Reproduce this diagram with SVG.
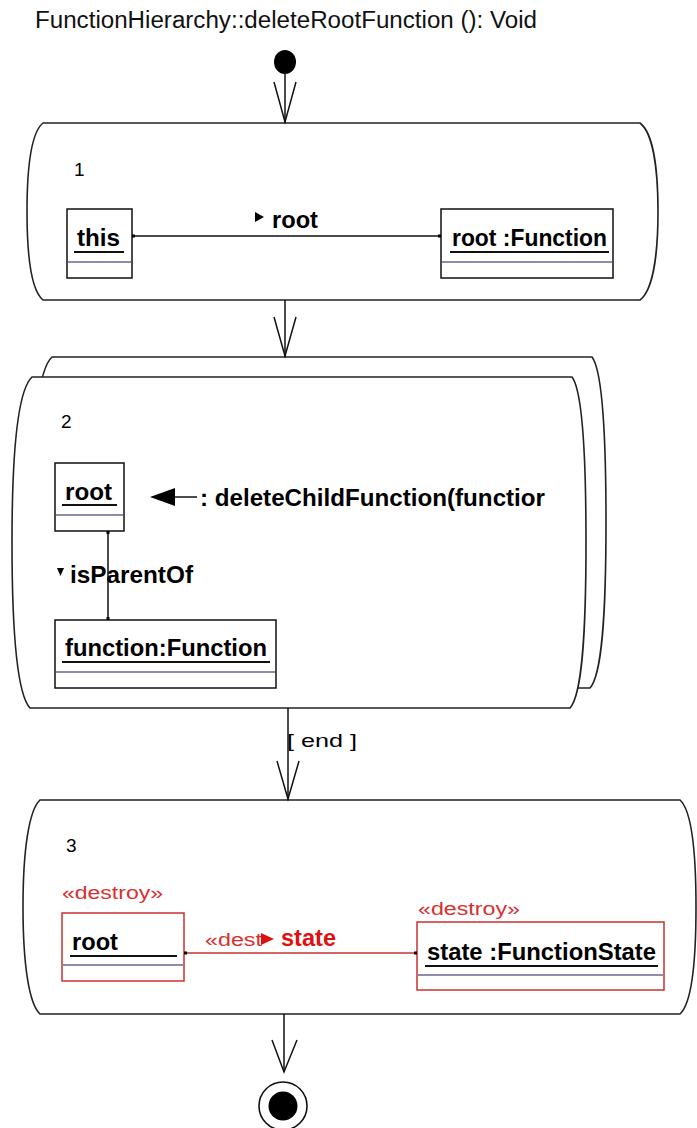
<svg xmlns="http://www.w3.org/2000/svg" width="697" height="1128" viewBox="0 0 697 1128">
<style>
text{font-family:"Liberation Sans",Arial,sans-serif;fill:#000}
.t{font-size:23px;fill:#111}
.b{font-size:23px;font-weight:bold}
.n{font-size:19px}
.act{fill:#fff;stroke:#222;stroke-width:1.6}
.obj{fill:#fff;stroke:#111;stroke-width:1.5}
.red{fill:#fff;stroke:#cc3030;stroke-width:1.5}
.ul{stroke:#111;stroke-width:2}
.sep{stroke:#8c8cae;stroke-width:2}
.tr{stroke:#111;stroke-width:1.5;fill:none}
.lnk{stroke:#111;stroke-width:1.5}
.st{font-size:18px;fill:#d83030}
</style>
<text class="t" x="35" y="28" textLength="502" lengthAdjust="spacingAndGlyphs">FunctionHierarchy::deleteRootFunction (): Void</text>

<g id="start"><ellipse cx="285" cy="62" rx="11" ry="12" fill="#000"/></g>

<g id="activity1">
<path class="act" d="M43,123 L640,123 C652,132 658,165 658,211.5 C658,258 652,291 640,300 L43,300 C32,291 27,258 27,211.5 C27,165 32,132 43,123 Z"/>
<text class="n" x="74" y="176">1</text>
</g>
<g id="obj-this">
<rect class="obj" x="67" y="209" width="65" height="69"/>
<text class="b" x="77" y="246" textLength="43" lengthAdjust="spacingAndGlyphs">this</text>
<line class="ul" x1="74" y1="252" x2="124" y2="252"/>
<line class="sep" x1="68" y1="262" x2="131" y2="262"/>
</g>
<g id="obj-root1">
<rect class="obj" x="441" y="209" width="172" height="69"/>
<text class="b" x="452" y="246" textLength="155" lengthAdjust="spacingAndGlyphs">root :Function</text>
<line class="ul" x1="450" y1="252" x2="609" y2="252"/>
<line class="sep" x1="442" y1="262" x2="612" y2="262"/>
</g>

<g id="activity2">
<path class="act" d="M52,357 L592,357 C602,370 606,430 606,522 C606,615 602,675 590,688 L50,688 C38,675 32,615 32,522 C32,430 38,370 52,357 Z"/>
<path class="act" d="M32,377 L572,377 C582,390 586,450 586,542 C586,635 582,695 570,708 L30,708 C18,695 12,635 12,542 C12,450 18,390 32,377 Z"/>
<text class="n" x="61" y="428">2</text>
</g>
<g id="obj-root2">
<rect class="obj" x="55" y="463" width="69" height="68"/>
<text class="b" x="65" y="500" textLength="47" lengthAdjust="spacingAndGlyphs">root</text>
<line class="ul" x1="62" y1="505" x2="117" y2="505"/>
<line class="sep" x1="56" y1="515" x2="123" y2="515"/>
</g>
<g id="obj-function">
<rect class="obj" x="55" y="620" width="221" height="68"/>
<text class="b" x="65" y="656" textLength="202" lengthAdjust="spacingAndGlyphs">function:Function</text>
<line class="ul" x1="62" y1="662" x2="270" y2="662"/>
<line class="sep" x1="56" y1="672" x2="275" y2="672"/>
</g>
<g id="msg">
<polygon points="150,497 175,488 175,506" fill="#000"/>
<line class="lnk" x1="174" y1="497" x2="197" y2="497"/>
<text class="b" x="200" y="506" textLength="345" lengthAdjust="spacingAndGlyphs">: deleteChildFunction(functior</text>
</g>

<g id="activity3">
<path class="act" d="M40,800 L680,800 C691,810 696,850 696,907 C696,964 691,1004 680,1014 L40,1014 C29,1004 23,964 23,907 C23,850 29,810 40,800 Z"/>
<text class="n" x="66" y="852">3</text>
</g>
<g id="obj-root3">
<text class="st" x="62" y="899" textLength="101" lengthAdjust="spacingAndGlyphs">«destroy»</text>
<rect class="red" x="62" y="913" width="122" height="68"/>
<text class="b" x="72" y="950" textLength="46" lengthAdjust="spacingAndGlyphs">root</text>
<line class="ul" x1="70" y1="956" x2="177" y2="956"/>
<line class="sep" x1="63" y1="965" x2="183" y2="965"/>
</g>
<g id="obj-state">
<text class="st" x="418" y="915" textLength="102" lengthAdjust="spacingAndGlyphs">«destroy»</text>
<rect class="red" x="417" y="922" width="247" height="68"/>
<text class="b" x="427" y="960" textLength="229" lengthAdjust="spacingAndGlyphs">state :FunctionState</text>
<line class="ul" x1="425" y1="966" x2="658" y2="966"/>
<line class="sep" x1="418" y1="975" x2="663" y2="975"/>
</g>

<g id="end"><circle cx="283" cy="1106" r="24" fill="#fff" stroke="#111" stroke-width="1.6"/><circle cx="283" cy="1106" r="14.5" fill="#000"/></g>

<g id="connectors">
<line class="tr" x1="285" y1="72" x2="285" y2="123"/>
<polyline class="tr" points="274,82 285,122 296,82"/>
<line class="tr" x1="285" y1="300" x2="285" y2="357"/>
<polyline class="tr" points="274,317 285,356 296,317"/>
<line class="tr" x1="288" y1="708" x2="288" y2="800"/>
<polyline class="tr" points="277,761 288,799 299,761"/>
<text class="n" x="287" y="747" textLength="70" lengthAdjust="spacingAndGlyphs">[ end ]</text>
<line class="tr" x1="284" y1="1014" x2="284" y2="1072"/>
<polyline class="tr" points="272,1040 284,1072 297,1040"/>

<line class="lnk" x1="132" y1="236" x2="441" y2="236"/>
<rect x="132" y="234.5" width="3" height="3" fill="#000"/>
<rect x="438" y="234.5" width="3" height="3" fill="#000"/>
<polygon points="255,212 264,217 255,222" fill="#000"/>
<text class="b" x="272" y="228" textLength="46" lengthAdjust="spacingAndGlyphs">root</text>

<line class="lnk" x1="108" y1="531" x2="108" y2="620"/>
<rect x="106.5" y="531" width="3" height="3" fill="#000"/>
<rect x="106.5" y="617" width="3" height="3" fill="#000"/>
<polygon points="57,568 64,568 60.5,576" fill="#000"/>
<text class="b" x="70" y="583" textLength="123" lengthAdjust="spacingAndGlyphs">isParentOf</text>

<line x1="184" y1="953" x2="417" y2="953" stroke="#cc3030" stroke-width="1.5"/>
<rect x="184" y="951.5" width="3" height="3" fill="#000"/>
<rect x="414" y="951.5" width="3" height="3" fill="#000"/>
<text class="st" x="205" y="946" font-size="17" textLength="57" lengthAdjust="spacingAndGlyphs">«dest</text>
<polygon points="261,933 274,939 261,945" fill="#e01010"/>
<text class="b" x="281" y="946" textLength="55" lengthAdjust="spacingAndGlyphs" style="fill:#e01010">state</text>
</g>
</svg>
